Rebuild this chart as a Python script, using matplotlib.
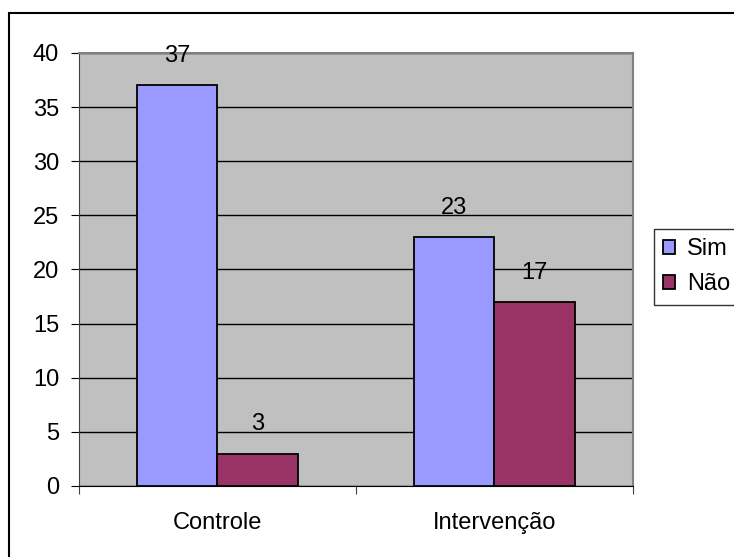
import matplotlib.pyplot as plt
import numpy as np
from matplotlib.patches import Rectangle

plt.rcParams['font.family'] = ['Liberation Sans', 'DejaVu Sans']

# dados
categorias = ['Controle', 'Intervenção']
sim = [37, 23]
nao = [3, 17]

fig = plt.figure(figsize=(7.34, 5.57), dpi=100)
ax = fig.add_axes([0.1076, 0.1275, 0.7548, 0.7774])
ax.set_facecolor('#C0C0C0')

x = np.arange(len(categorias))
w = 0.289
b1 = ax.bar(x - w / 2, sim, w, color='#9999FF', edgecolor='black', linewidth=1.3, label='Sim', zorder=3)
b2 = ax.bar(x + w / 2, nao, w, color='#993366', edgecolor='black', linewidth=1.3, label='Não', zorder=3)

# rótulos de valor
for bars in (b1, b2):
    for r in bars:
        ax.annotate(str(int(r.get_height())), (r.get_x() + r.get_width() / 2, r.get_height()),
                    xytext=(0, 21), textcoords='offset points',
                    ha='center', va='center', fontsize=17, zorder=4)

ax.set_xlim(-0.5, 1.5)
ax.set_ylim(0, 40)
ax.set_yticks(range(0, 41, 5))
ax.grid(axis='y', color='black', linewidth=1.0, zorder=1)
ax.set_xticks([-0.5, 0.5, 1.5])
ax.set_xticklabels([])
ax.set_xticks(x, minor=True)
ax.set_xticklabels(categorias, minor=True)
ax.tick_params(axis='x', which='minor', length=0, pad=18.5, labelsize=17)
ax.tick_params(axis='x', which='major', length=5.8, direction='out', color='#404040')
ax.tick_params(axis='y', length=5.8, direction='out', labelsize=17, pad=8.5)

for s in ['top', 'right']:
    ax.spines[s].set_color('#808080')
    ax.spines[s].set_linewidth(1.5)
ax.spines['bottom'].set_color('black')
ax.spines['left'].set_color('#404040')

leg = fig.legend(handles=[b1, b2], loc='upper left', bbox_to_anchor=(0.891, 0.589),
                 frameon=True, fancybox=False, edgecolor='black', fontsize=17,
                 handlelength=0.5, handleheight=0.5, handletextpad=0.5,
                 borderpad=0.4, labelspacing=0.55, borderaxespad=0)
leg.get_frame().set_linewidth(1.0)

# moldura externa
fig.patches.append(Rectangle((0.0116, -0.05), 1.1, 1.0267, transform=fig.transFigure,
                             fill=False, edgecolor='black', linewidth=1.5))

fig.savefig('out.png', dpi=100)
